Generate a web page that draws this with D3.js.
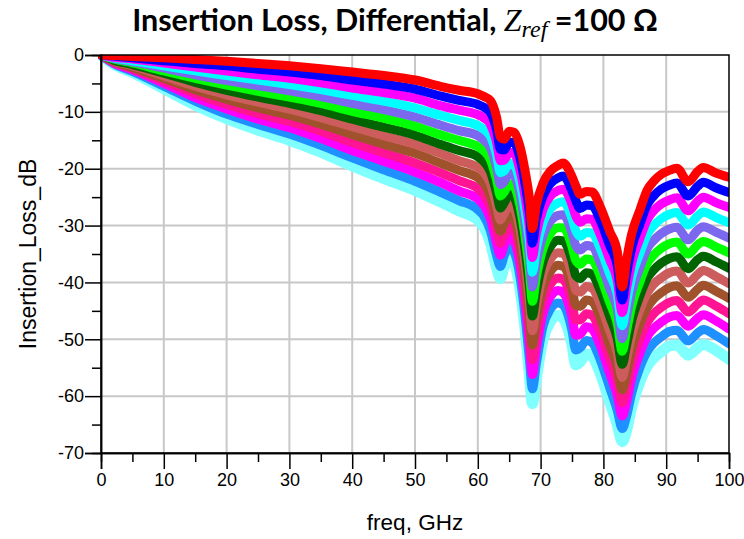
<!DOCTYPE html>
<html><head><meta charset="utf-8">
<script src="https://cdn.jsdelivr.net/npm/d3@7"></script>
<style>
html,body{margin:0;padding:0;background:#fff;}
svg{display:block;}
</style></head>
<body>
<svg id="chart" width="744" height="539"></svg>
<script>
// ---- data ----
const freq = [0,2,5,10,15,20,25,30,35,40,45,50,54,57,60,61,62,63,63.6,64.2,65,65.8,66.7,67.5,68.2,68.7,69.3,70.4,71.5,72.8,73.6,75,75.6,76.3,77.3,78.2,79.5,81,82.2,83,83.7,84.5,85.8,87,88,89.2,90.5,91.7,93.5,95,95.9,98,100];

const s0 = [0,-0.1,-0.25,-0.5,-0.8,-1.1,-1.5,-1.9,-2.4,-3.0,-3.6,-4.4,-5.5,-6.2,-6.8,-7.3,-8.0,-11.0,-14.5,-14.8,-13.4,-13.6,-16.0,-20.2,-25.0,-30.5,-26.5,-22.5,-20.5,-19.4,-19.0,-21.4,-23.0,-24.5,-24.0,-24.1,-26.7,-31.0,-34.5,-40.8,-36.0,-31.5,-27.3,-23.7,-22.2,-21.0,-20.3,-19.9,-22.3,-20.5,-19.8,-20.8,-21.5];
const s1 = [0,-0.2,-0.5,-1.0,-1.5,-1.9,-2.5,-3.0,-3.6,-4.4,-5.1,-6.0,-7.2,-8.0,-8.7,-9.2,-10.1,-13.2,-16.6,-16.7,-15.3,-15.5,-18.1,-22.5,-27.6,-33.1,-29.0,-24.8,-22.7,-21.6,-21.3,-23.9,-25.6,-27.0,-26.4,-26.5,-29.1,-33.5,-37.0,-43.1,-38.5,-34.0,-29.8,-26.3,-24.8,-23.6,-22.9,-22.5,-24.8,-23.1,-22.4,-23.4,-24.2];
const s2 = [0,-0.4,-0.7,-1.4,-2.1,-2.8,-3.5,-4.1,-4.9,-5.8,-6.6,-7.6,-8.9,-9.7,-10.5,-11.1,-12.2,-15.4,-18.6,-18.5,-17.1,-17.4,-20.2,-24.8,-30.2,-35.6,-31.6,-27.1,-24.9,-23.8,-23.6,-26.3,-28.3,-29.4,-28.8,-28.9,-31.6,-36.0,-39.6,-45.3,-41.0,-36.6,-32.3,-28.9,-27.4,-26.2,-25.5,-25.1,-27.4,-25.7,-25.0,-26.0,-26.8];
const s3 = [0,-0.5,-1.0,-1.9,-2.8,-3.6,-4.4,-5.2,-6.1,-7.1,-8.1,-9.3,-10.6,-11.5,-12.4,-13.1,-14.3,-17.6,-20.7,-20.4,-19.0,-19.4,-22.3,-27.2,-32.8,-38.2,-34.1,-29.4,-27.1,-26.0,-25.8,-28.8,-30.9,-31.9,-31.2,-31.3,-34.0,-38.5,-42.1,-47.6,-43.5,-39.1,-34.9,-31.5,-30.0,-28.8,-28.0,-27.7,-29.9,-28.3,-27.6,-28.6,-29.5];
const s4 = [0,-0.6,-1.2,-2.3,-3.5,-4.5,-5.4,-6.3,-7.3,-8.5,-9.6,-10.9,-12.3,-13.3,-14.2,-15.0,-16.3,-19.8,-22.8,-22.3,-20.8,-21.3,-24.3,-29.5,-35.3,-40.8,-36.7,-31.7,-29.3,-28.2,-28.1,-31.3,-33.5,-34.3,-33.5,-33.7,-36.5,-41.0,-44.7,-49.9,-46.0,-41.7,-37.4,-34.0,-32.6,-31.4,-30.6,-30.3,-32.5,-30.8,-30.2,-31.2,-32.2];
const s5 = [0,-0.7,-1.4,-2.8,-4.1,-5.3,-6.4,-7.4,-8.5,-9.9,-11.1,-12.5,-14.0,-15.0,-16.1,-16.9,-18.4,-22.0,-24.8,-24.1,-22.7,-23.2,-26.4,-31.8,-37.9,-43.3,-39.2,-34.0,-31.5,-30.4,-30.4,-33.7,-36.1,-36.8,-35.9,-36.1,-38.9,-43.5,-47.2,-52.1,-48.5,-44.2,-39.9,-36.6,-35.2,-34.0,-33.2,-32.9,-35.0,-33.4,-32.8,-33.8,-34.8];
const s6 = [0,-0.9,-1.7,-3.2,-4.8,-6.2,-7.4,-8.5,-9.8,-11.3,-12.7,-14.1,-15.7,-16.8,-17.9,-18.8,-20.5,-24.3,-26.9,-26.0,-24.5,-25.1,-28.5,-34.1,-40.5,-45.9,-41.8,-36.3,-33.8,-32.6,-32.7,-36.2,-38.8,-39.3,-38.3,-38.6,-41.4,-46.0,-49.8,-54.4,-51.0,-46.8,-42.4,-39.2,-37.8,-36.6,-35.8,-35.5,-37.6,-36.0,-35.4,-36.4,-37.5];
const s7 = [0,-1.0,-1.9,-3.7,-5.5,-7.0,-8.3,-9.5,-11.0,-12.6,-14.2,-15.7,-17.3,-18.6,-19.8,-20.7,-22.6,-26.5,-29.0,-27.9,-26.4,-27.0,-30.6,-36.4,-43.1,-48.5,-44.3,-38.5,-36.0,-34.8,-34.9,-38.7,-41.4,-41.7,-40.7,-41.0,-43.8,-48.5,-52.3,-56.7,-53.5,-49.3,-44.9,-41.8,-40.3,-39.2,-38.3,-38.0,-40.1,-38.6,-37.9,-39.0,-40.2];
const s8 = [0,-1.1,-2.2,-4.1,-6.1,-7.8,-9.3,-10.6,-12.2,-14.0,-15.7,-17.3,-19.0,-20.3,-21.6,-22.6,-24.7,-28.7,-31.0,-29.7,-28.2,-28.9,-32.7,-38.7,-45.7,-51.0,-46.8,-40.8,-38.2,-37.0,-37.2,-41.1,-44.0,-44.2,-43.1,-43.4,-46.2,-51.0,-54.8,-58.9,-56.0,-51.8,-47.4,-44.4,-42.9,-41.8,-40.9,-40.6,-42.6,-41.2,-40.5,-41.6,-42.8];
const s9 = [0,-1.2,-2.4,-4.6,-6.8,-8.7,-10.3,-11.7,-13.4,-15.4,-17.2,-19.0,-20.7,-22.1,-23.5,-24.6,-26.8,-30.9,-33.1,-31.6,-30.1,-30.9,-34.8,-41.1,-48.3,-53.6,-49.4,-43.1,-40.4,-39.2,-39.5,-43.6,-46.6,-46.6,-45.5,-45.8,-48.7,-53.5,-57.4,-61.2,-58.5,-54.4,-50.0,-47.0,-45.5,-44.4,-43.5,-43.2,-45.2,-43.8,-43.1,-44.2,-45.5];
const s10 = [0,-1.4,-2.6,-5.0,-7.5,-9.5,-11.3,-12.8,-14.7,-16.8,-18.7,-20.6,-22.4,-23.9,-25.3,-26.5,-28.8,-33.1,-35.2,-33.5,-31.9,-32.8,-36.8,-43.4,-50.8,-56.2,-51.9,-45.4,-42.6,-41.4,-41.8,-46.1,-49.3,-49.1,-47.8,-48.2,-51.1,-56.0,-59.9,-63.5,-61.0,-56.9,-52.5,-49.5,-48.1,-47.0,-46.1,-45.8,-47.7,-46.3,-45.7,-46.8,-48.2];
const s11 = [0,-1.5,-2.9,-5.5,-8.1,-10.4,-12.2,-13.9,-15.9,-18.1,-20.2,-22.2,-24.1,-25.6,-27.2,-28.4,-30.9,-35.3,-37.2,-35.3,-33.8,-34.7,-38.9,-45.7,-53.4,-58.7,-54.5,-47.7,-44.8,-43.6,-44.0,-48.5,-51.9,-51.5,-50.2,-50.6,-53.6,-58.5,-62.5,-65.7,-63.5,-59.5,-55.0,-52.1,-50.7,-49.6,-48.6,-48.4,-50.3,-48.9,-48.3,-49.4,-50.8];
const s12 = [0,-1.6,-3.1,-5.9,-8.8,-11.2,-13.2,-15.0,-17.1,-19.5,-21.7,-23.8,-25.8,-27.4,-29.0,-30.3,-33.0,-37.5,-39.3,-37.2,-35.6,-36.6,-41.0,-48.0,-56.0,-61.3,-57.0,-50.0,-47.0,-45.8,-46.3,-51.0,-54.5,-54.0,-52.6,-53.0,-56.0,-61.0,-65.0,-68.0,-66.0,-62.0,-57.5,-54.7,-53.3,-52.2,-51.2,-51.0,-52.8,-51.5,-50.9,-52.0,-53.5];

const seriesValues = [s0,s1,s2,s3,s4,s5,s6,s7,s8,s9,s10,s11,s12];
const seriesColors = ["#ff0000","#0000ff","#ff00ff","#00ffff","#7b68ee","#00ff00","#006400","#cd5c5c","#a0522d","#ff1493","#ff00ff","#1e90ff","#80ffff"];

const xMajorTicks = [0,10,20,30,40,50,60,70,80,90,100];
const xMinorTicks = [5,15,25,35,45,55,65,75,85,95];
const yMajorTicks = [0,-10,-20,-30,-40,-50,-60,-70];
const yMinorTicks = [-5,-15,-25,-35,-45,-55,-65];

// ---- layout ----
const L = 101, R = 729, T = 55, B = 453;
const svg = d3.select("#chart");
svg.append("rect").attr("width",744).attr("height",539).attr("fill","#fff");

const x = d3.scaleLinear().domain([0,100]).range([L,R]);
const y = d3.scaleLinear().domain([-70,0]).range([B,T]);

svg.append("defs").append("clipPath").attr("id","plotclip")
  .append("rect").attr("x",L-3).attr("y",T).attr("width",R-L+3).attr("height",B-T);

// grid
const grid = svg.append("g");
grid.selectAll("line.vx").data(xMajorTicks.slice(1,-1)).join("line")
  .attr("x1",d=>x(d)).attr("x2",d=>x(d)).attr("y1",T).attr("y2",B)
  .attr("stroke","#c8c8c8").attr("stroke-width",2);
grid.selectAll("line.hy").data(yMajorTicks.slice(1,-1)).join("line")
  .attr("y1",d=>y(d)).attr("y2",d=>y(d)).attr("x1",L).attr("x2",R)
  .attr("stroke","#c8c8c8").attr("stroke-width",2);

// series
const line = d3.line().x((d,i)=>x(freq[i])).y(d=>y(d)).curve(d3.curveMonotoneX);
const gl = svg.append("g").attr("clip-path","url(#plotclip)").attr("fill","none")
  .attr("stroke-linejoin","round").attr("stroke-linecap","round");
for (let k = seriesValues.length-1; k >= 0; k--) {
  gl.append("path").datum(seriesValues[k])
    .attr("d", line)
    .attr("stroke", seriesColors[k])
    .attr("stroke-width", k===12 ? 11 : 9);
}

// border
svg.append("rect").attr("x",L).attr("y",T).attr("width",R-L).attr("height",B-T)
  .attr("fill","none").attr("stroke","#000").attr("stroke-width",1.5);

// axes
const tickFont = "'Liberation Sans', Arial, sans-serif";
function styleAxis(g){
  g.select(".domain").attr("stroke","#000").attr("stroke-width",1.5);
  g.selectAll(".tick line").attr("stroke","#000").attr("stroke-width",1.5);
  g.selectAll(".tick text").attr("fill","#000").style("font-family",tickFont).style("font-size","18px");
}
svg.append("g").attr("transform",`translate(${L},0)`)
  .call(d3.axisLeft(y).tickValues(yMajorTicks).tickSize(16).tickPadding(1).tickFormat(d=>String(d)))
  .call(styleAxis);
svg.append("g").attr("transform",`translate(${L},0)`)
  .call(d3.axisLeft(y).tickValues(yMinorTicks).tickSize(9).tickFormat(""))
  .call(styleAxis);
svg.append("g").attr("transform",`translate(0,${B})`)
  .call(d3.axisBottom(x).tickValues(xMajorTicks).tickSize(16).tickPadding(4).tickFormat(d=>String(d)))
  .call(styleAxis);
svg.append("g").attr("transform",`translate(0,${B})`)
  .call(d3.axisBottom(x).tickValues(xMinorTicks).tickSize(9).tickFormat(""))
  .call(styleAxis);

// axis titles
svg.append("text").attr("x",415).attr("y",530).attr("text-anchor","middle")
  .style("font-family",tickFont).style("font-size","22.5px").text("freq, GHz");
svg.append("text").attr("transform","translate(36,254) rotate(-90)").attr("text-anchor","middle")
  .style("font-family",tickFont).style("font-size","23px").text("Insertion_Loss_dB");

// title
const title = svg.append("text").attr("x",395).attr("y",31).attr("text-anchor","middle")
  .style("font-family","Lato, 'Open Sans', sans-serif").style("font-weight","bold").style("font-size","30.5px");
title.append("tspan").text("Insertion Loss, Differential, ");
title.append("tspan").style("font-family","'Liberation Serif', 'DejaVu Serif', serif").style("font-style","italic").style("font-weight","normal").style("font-size","32px").text("Z");
title.append("tspan").attr("dy",6).style("font-family","'Liberation Serif', 'DejaVu Serif', serif").style("font-style","italic").style("font-weight","normal").style("font-size","24px").text("ref");
title.append("tspan").attr("dy",-6).text(" =100 Ω");
</script>
</body></html>
